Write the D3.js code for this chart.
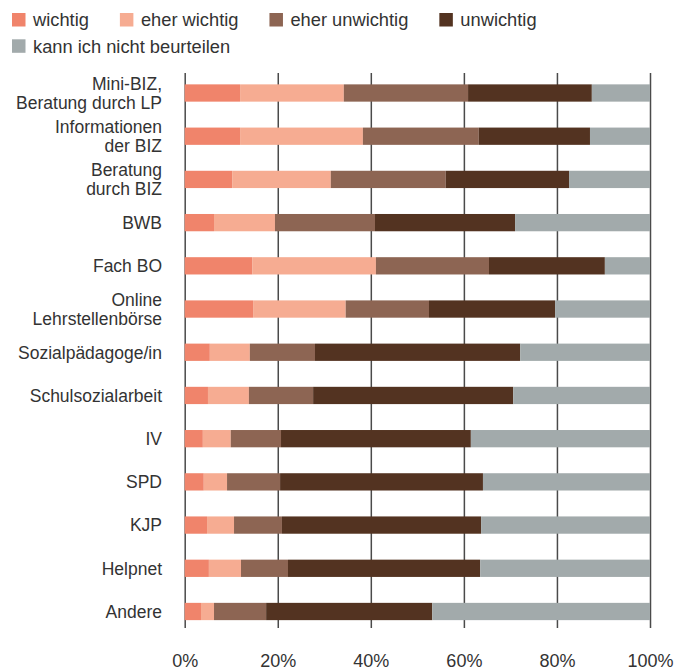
<!DOCTYPE html>
<html>
<head>
<meta charset="utf-8">
<script src="https://cdn.jsdelivr.net/npm/d3@7"></script>
<style>
  html, body { margin: 0; padding: 0; background: #fff; }
  svg { display: block; font-family: "Liberation Sans", Arial, sans-serif; }
</style>
</head>
<body>
<svg id="chart" width="690" height="671"></svg>
<script>
// ---- Data ----
const categories = [
  "Mini-BIZ,\nBeratung durch LP",
  "Informationen\nder BIZ",
  "Beratung\ndurch BIZ",
  "BWB",
  "Fach BO",
  "Online\nLehrstellenbörse",
  "Sozialpädagoge/in",
  "Schulsozialarbeit",
  "IV",
  "SPD",
  "KJP",
  "Helpnet",
  "Andere"
];
const seriesNames = ["wichtig", "eher wichtig", "eher unwichtig", "unwichtig", "kann ich nicht beurteilen"];
const wichtig       = [11.9, 11.9, 10.2,  6.3, 14.5, 14.7,  5.4,  5.0,  3.9,  4.1,  4.8,  5.2,  3.5];
const eherWichtig   = [22.3, 26.4, 21.2, 13.1, 26.6, 19.9,  8.6,  8.8,  6.0,  5.0,  5.8,  6.9,  2.8];
const eherUnwichtig = [26.7, 24.9, 24.7, 21.5, 24.3, 17.9, 14.0, 13.8, 10.8, 11.4, 10.3, 10.1, 11.2];
const unwichtig     = [26.6, 23.9, 26.5, 30.1, 24.9, 27.1, 44.1, 43.0, 40.8, 43.6, 42.8, 41.3, 35.7];
const kannNicht     = [12.5, 12.9, 17.4, 29.0,  9.7, 20.4, 27.9, 29.4, 38.5, 35.9, 36.3, 36.5, 46.8];
const tickValues = [0, 20, 40, 60, 80, 100];
const colors = ["#F0846B", "#F6AC92", "#8D6553", "#533321", "#A2AAAB"];

// ---- Build table ----
const seriesArrays = [wichtig, eherWichtig, eherUnwichtig, unwichtig, kannNicht];
const rows = categories.map((c, i) => {
  const r = { cat: c };
  seriesNames.forEach((s, j) => r[s] = seriesArrays[j][i]);
  return r;
});
const stack = d3.stack().keys(seriesNames)(rows);

const svg = d3.select("#chart");
const x = d3.scaleLinear().domain([0, 100]).range([184.7, 650]);
const y = d3.scaleBand().domain(categories).range([71.4, 633.1]).paddingInner(0.6).paddingOuter(0.3);
const color = d3.scaleOrdinal().domain(seriesNames).range(colors);

const gridTop = 73, axisY = 628;
const textColor = "#333";

// Axis with gridlines
const axis = d3.axisBottom(x)
  .tickValues(tickValues)
  .tickFormat(d => d + "%")
  .tickSizeInner(-(axisY - gridTop))
  .tickSizeOuter(0);
const gAxis = svg.append("g").attr("transform", `translate(0,${axisY})`).call(axis);
gAxis.select(".domain").remove();
gAxis.selectAll(".tick line").attr("stroke", "#4a4a4a").attr("stroke-width", 1.5);
gAxis.selectAll(".tick text")
  .attr("y", 39).attr("dy", 0)
  .attr("fill", textColor)
  .style("font-size", "18px")
  .style("font-family", "'Liberation Sans', Arial, sans-serif");

// Bars
svg.append("g").selectAll("g").data(stack).join("g")
  .attr("fill", d => color(d.key))
  .selectAll("rect").data(d => d).join("rect")
  .attr("x", d => x(d[0]))
  .attr("width", d => x(d[1]) - x(d[0]))
  .attr("y", d => y(d.data.cat))
  .attr("height", y.bandwidth());

// Y labels
const lab = svg.append("g").selectAll("text").data(categories).join("text")
  .attr("text-anchor", "end")
  .attr("fill", textColor)
  .style("font-size", "17.5px");
lab.each(function(d) {
  const lines = d.split("\n");
  const cy = y(d) + y.bandwidth() / 2;
  const lh = 19;
  const t = d3.select(this);
  lines.forEach((ln, k) => {
    t.append("tspan")
      .attr("x", 162)
      .attr("y", cy + (k - (lines.length - 1) / 2) * lh + 6.3)
      .text(ln);
  });
});

// Legend
const leg = svg.append("g");
const legRows = [[0, 1, 2, 3], [4]];
const rowY = [13, 39.3];
legRows.forEach((idxs, r) => {
  let cx = 12;
  idxs.forEach(i => {
    leg.append("rect").attr("x", cx).attr("y", rowY[r]).attr("width", 13.5).attr("height", 13.5)
      .attr("fill", colors[i]);
    const t = leg.append("text").attr("x", cx + 21).attr("y", rowY[r] + 13.2)
      .attr("fill", textColor).style("font-size", "18.3px").text(seriesNames[i]);
    cx = cx + 21 + t.node().getComputedTextLength() + 31;
  });
});
</script>
</body>
</html>
